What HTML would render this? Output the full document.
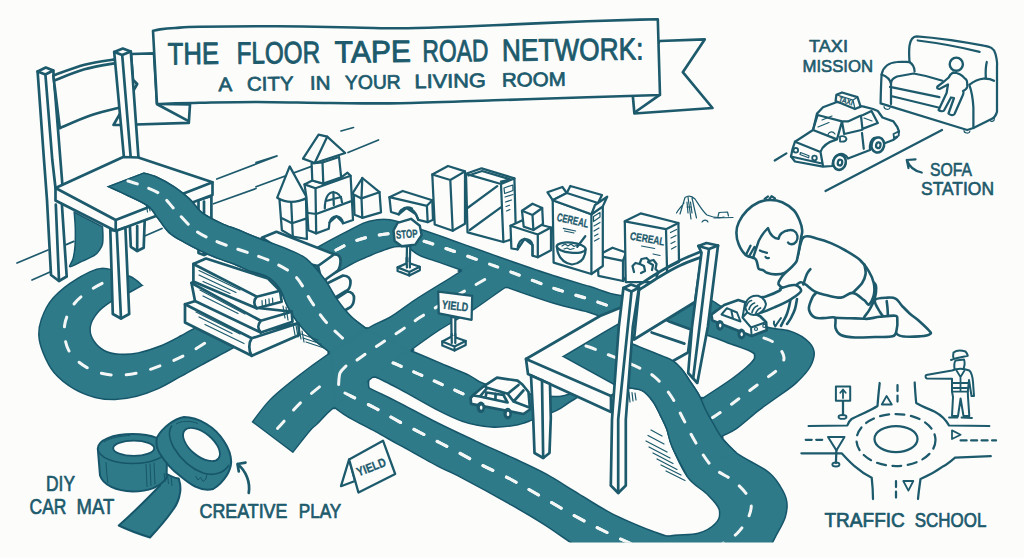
<!DOCTYPE html>
<html lang="en"><head><meta charset="utf-8"><title>The Floor Tape Road Network</title>
<style>
html,body{margin:0;padding:0;background:#fcfcfb;}
body{width:1024px;height:558px;overflow:hidden;}
svg{display:block;}
text{font-family:"Liberation Sans",sans-serif;fill:#1c5a6c;}
.ln{fill:none;stroke:#1c5a6c;stroke-width:2.7;stroke-linecap:round;stroke-linejoin:round;}
.lw{fill:#fcfcfb;stroke:#1c5a6c;stroke-width:2.7;stroke-linecap:round;stroke-linejoin:round;}
.th{fill:none;stroke:#1c5a6c;stroke-width:1.2;stroke-linecap:round;stroke-linejoin:round;}
.sm .lw,.sm .ln{stroke-width:2.25;}
.bl{fill:none;stroke:#1c5a6c;stroke-width:1.7;stroke-linecap:round;}
.rd{fill:#2e7a88;stroke:#17566a;stroke-width:3;stroke-linejoin:round;}
.rf{fill:#2e7a88;stroke:none;}
.ds{fill:none;stroke:#f4f7f6;stroke-width:3;stroke-linecap:round;}
</style></head><body>
<svg width="1024" height="558" viewBox="0 0 1024 558">
<rect width="1024" height="558" fill="#fcfcfb"/>
<defs><clipPath id="cut"><rect x="0" y="0" width="1024" height="542.5"/></clipPath><filter id="er" x="0" y="0" width="1024" height="558" filterUnits="userSpaceOnUse"><feMorphology operator="erode" radius="1"/></filter></defs>
<path class="bl" d="M17 263L48 250M216.8 179L256 164L277 156M341 131L353.5 127.5M32 280L50 272M256 186.7L311.5 166.4M256 162.5L276.4 156M66.2 244.6L73.8 241.4M144.7 236L162 228.5M213.5 203.8L256 188.5M348 152.5L378.5 140"/>
<path class="lw" d="M131 54L154 53.3L157 104L190 104.5L188.8 122.8L120 125L113.5 125L119 115.3L128 100L137.2 84L133 79.8Z"/>
<path class="ln" d="M157.6 104.5L187.7 120.6"/>
<g clip-path="url(#cut)">
<g filter="url(#er)">
<path class="rd" d="M73.8 211.3L102.8 226.3C102.9 227.9 103.2 232.9 103.2 236C103.2 239.1 103.3 242.2 102.8 244.6C102.3 247 101.2 248.7 100 250.5C98.8 252.3 98.1 253.6 95.3 255.4C92.5 257.2 87.3 259.5 83 261.5C78.7 263.5 71.2 267.9 69.5 267.2C67.8 266.4 72.1 260.8 73 257C73.9 253.2 74.5 249.4 74.8 244.6C75.1 239.8 75.2 233.6 75 228C74.8 222.4 74 214.1 73.8 211.3Z"/>
<path class="rf" d="M73.8 211.3L102.8 226.3C102.9 227.9 103.2 232.9 103.2 236C103.2 239.1 103.3 242.2 102.8 244.6C102.3 247 101.2 248.7 100 250.5C98.8 252.3 98.1 253.6 95.3 255.4C92.5 257.2 87.3 259.5 83 261.5C78.7 263.5 71.2 267.9 69.5 267.2C67.8 266.4 72.1 260.8 73 257C73.9 253.2 74.5 249.4 74.8 244.6C75.1 239.8 75.2 233.6 75 228C74.8 222.4 74 214.1 73.8 211.3Z"/>
<path class="rd" d="M143.3 285.5C141.2 283.9 137.2 278.9 130.4 276C123.6 273.1 111.2 267.6 102.2 268C93.2 268.4 84.6 273.6 76.4 278.5C68.2 283.4 58.8 290.7 52.9 297.3C47 303.9 43.5 311.9 41.1 318.4C38.7 324.9 38.3 330.5 38.6 336.4C38.9 342.3 40.4 347.5 42.9 353.6C45.4 359.7 48.6 367.1 53.6 373C58.6 378.9 66.2 384.9 73 389C79.8 393.1 87.2 395.9 94.4 397.7C101.6 399.5 108.8 400 116 399.8C123.2 399.6 130.2 398.4 137.4 396.6C144.6 394.8 151.7 392.2 158.9 389C166.1 385.8 173.2 381.2 180.4 377.3C187.6 373.4 193.3 370.1 201.9 365.4C210.5 360.7 225.3 353 232 349.3C238.7 345.6 240.3 344.1 242 343L242 303C237.5 305.3 223.8 312.4 215 317C206.2 321.6 194.8 327.4 189 330.5C183.2 333.6 185.4 332.8 180.4 335.4C175.4 338 166.1 343.1 158.9 346C151.7 348.9 143.8 351.3 137.4 352.6C131 353.9 125.6 354.4 120.2 354C114.8 353.6 109.5 352.6 105.2 350.4C100.9 348.2 96.9 344.4 94.4 340.7C92 337 90 332.5 90.5 328C91 323.5 94 318 97.5 313.7C101 309.4 106.1 305.5 111.6 302C117.1 298.5 127.3 294.2 130.4 292.6Z"/>
<path class="rf" d="M143.3 285.5C141.2 283.9 137.2 278.9 130.4 276C123.6 273.1 111.2 267.6 102.2 268C93.2 268.4 84.6 273.6 76.4 278.5C68.2 283.4 58.8 290.7 52.9 297.3C47 303.9 43.5 311.9 41.1 318.4C38.7 324.9 38.3 330.5 38.6 336.4C38.9 342.3 40.4 347.5 42.9 353.6C45.4 359.7 48.6 367.1 53.6 373C58.6 378.9 66.2 384.9 73 389C79.8 393.1 87.2 395.9 94.4 397.7C101.6 399.5 108.8 400 116 399.8C123.2 399.6 130.2 398.4 137.4 396.6C144.6 394.8 151.7 392.2 158.9 389C166.1 385.8 173.2 381.2 180.4 377.3C187.6 373.4 193.3 370.1 201.9 365.4C210.5 360.7 225.3 353 232 349.3C238.7 345.6 240.3 344.1 242 343L242 303C237.5 305.3 223.8 312.4 215 317C206.2 321.6 194.8 327.4 189 330.5C183.2 333.6 185.4 332.8 180.4 335.4C175.4 338 166.1 343.1 158.9 346C151.7 348.9 143.8 351.3 137.4 352.6C131 353.9 125.6 354.4 120.2 354C114.8 353.6 109.5 352.6 105.2 350.4C100.9 348.2 96.9 344.4 94.4 340.7C92 337 90 332.5 90.5 328C91 323.5 94 318 97.5 313.7C101 309.4 106.1 305.5 111.6 302C117.1 298.5 127.3 294.2 130.4 292.6Z"/>
</g>
<path class="ds" d="M123 274C120.5 275.1 113.4 277.7 108 280.4C102.6 283.1 96.2 286.1 90.5 290C84.8 293.9 78.3 298.1 74 304C69.7 309.9 65.5 317.8 64.6 325.5C63.7 333.2 65 343.4 68.7 350.4C72.4 357.4 79.8 363.5 87 367.6C94.2 371.7 103.2 374.1 111.6 375C120 375.9 129.2 374.6 137.4 373C145.6 371.4 153.3 368.3 161 365.4C168.7 362.5 176.1 359.6 183.6 355.8C191.1 352 200.8 345.6 206 342.5C211.2 339.4 213.5 337.9 215 337" stroke-dasharray="10 15" stroke-dashoffset="2"/>
</g>
<path class="lw" d="M198.5 200L198.5 253L204 255L211.4 252L211.4 196Z"/>
<path class="ln" d="M204 201.6L204 255"/>
<path class="lw" d="M129.7 222L130.8 246.8L137.2 251L143.7 247.8L144.7 220Z"/>
<path class="ln" d="M137.2 226L137.2 251"/>
<path class="lw" d="M37.6 71.5L45.8 67.5L53.3 70.5L62.5 186L62 206L66.7 276.5L59 281L51 275L47 200L44 160Z"/>
<path class="ln" d="M37.6 71.5L45.4 74.5L53.3 70.5M45.4 74.5L52.3 160L55.5 188M55.8 204.7L59 281"/>
<path class="lw" d="M53.3 75.5C58.5 73.7 73.8 67.5 84.5 64.7C95.2 61.9 112.2 59.9 117.8 58.9 L123.2 106.7 C117.8 108.1 101.6 111.7 91 115.3C80.4 118.9 65 126 59.8 128.2 Z"/>
<path class="ln" d="M54.4 80.5C59.4 78.6 73.7 72.3 84.5 69.3C95.3 66.3 113.2 63.7 119 62.6"/>
<path class="lw" d="M114.2 52L122.8 48.6L130.8 51.5L138.5 158L131 161L124 158Z"/>
<path class="ln" d="M114.2 52L122.2 55L130.8 51.5M122.2 55L131 161"/>
<path class="lw" d="M55.5 188L123.2 157L138.3 157.5L212.5 182.3L212.5 195L115.7 231L55.5 200.5Z"/>
<path class="ln" d="M55.5 188L115.7 220L212.5 182.3M115.7 220L115.7 231"/>
<path class="lw" d="M110.3 229.6L112.8 314L121 318.5L129.2 314L125.4 227.5L115.7 231Z"/>
<path class="ln" d="M116.8 231.7L121 318.5"/>
<path class="th" d="M146 203L147.5 212M148.5 203.5L150 211M151 202L152.5 210"/>
<g clip-path="url(#cut)">
<g filter="url(#er)">
<path class="rd" d="M300 258C303.1 256 310.4 250.7 318.5 246C326.6 241.3 340.2 234.2 348.5 230C356.8 225.8 361.4 222.8 368.5 221C375.6 219.2 382.2 218.2 391 219.5C399.8 220.8 411.8 226 421 229C430.2 232 436 234 446 237.5C456 241 470 246.1 481 250C492 253.9 500 256.8 512 261C524 265.2 540 270.8 553 275C566 279.2 578.8 282.7 590 286C601.2 289.3 607.5 293 620 295C632.5 297 650.3 297.2 665 298C679.7 298.8 698.6 298.2 708 299.5C717.4 300.8 715.3 303.1 721.5 305.8C727.7 308.6 737.2 312.5 745 316C752.8 319.5 761.1 324.6 768.5 327C775.9 329.4 783.4 328.6 789.6 330.5C795.9 332.4 801.9 335.4 806 338.7C810.1 342 813.5 345.8 814.3 350.5C815.1 355.2 813.7 361.4 810.8 366.9C807.9 372.4 802.2 378.2 796.7 383.3C791.2 388.4 784.2 392.8 777.9 397.4C771.6 402 765.8 405.7 759 411C752.2 416.3 743 424.8 737 429C731 433.2 727 434 722.8 436.5C718.6 439 713.8 442.8 712 444L688 407C690.5 405.4 695.5 402.1 702.7 397.4C709.9 392.7 723.1 384.3 731 378.6C738.9 372.9 746.1 366.8 750 363C753.9 359.2 754.4 357.9 754.4 356C754.4 354.1 753.6 353.5 749.7 351.6C745.8 349.7 739.2 347.5 731 344.6C722.8 341.7 712.2 336.4 700.4 334C688.6 331.6 673.7 331.6 660 330C646.3 328.4 627.3 326.4 618 324.6C608.7 322.8 608.7 320.9 604 319C599.3 317.1 598.5 315.8 590 313.2C581.5 310.6 566.9 307.8 553 303.5C539.1 299.2 517.8 291.8 506.5 287.7C495.2 283.6 492.6 281.9 485 279C477.4 276.1 468.6 273.2 460.9 270.5C453.2 267.8 445.6 265.2 438.6 262.7C431.6 260.2 424 258.2 418.7 255.7C413.4 253.2 410.1 249.1 407 247.6C403.9 246.1 402.6 246.7 400 246.8C397.4 246.9 395 247.1 391.7 248C388.4 248.9 383.7 250.8 380 252.2C376.3 253.6 373.6 254.7 369.4 256.5C365.2 258.3 359.8 260.6 355 263C350.2 265.4 346.7 267.7 340.5 271C334.3 274.3 321.8 281 318 283Z"/>
<path class="rd" d="M251.7 422C254.8 418.1 262.7 406.4 270.5 398.6C278.3 390.8 288.9 382.6 298.7 375C308.5 367.4 317.8 360.6 329.2 352.8C340.6 345 356.6 334.3 366.8 328.2C377 322.1 382.5 321.1 390.3 316.4C398.1 311.7 404.5 306.1 413.8 300C423.1 293.9 438.2 284.8 446 280C453.8 275.2 454 274.7 460.5 271C467 267.3 480.9 260.2 485 258L525 278C521.8 279.6 514.4 282.5 506 287.7C497.6 292.9 485.9 302.3 474.8 309.4C463.7 316.5 450.2 323.6 439.6 330.5C429 337.4 423 342.2 411.4 350.5C399.8 358.8 382.9 370.4 370 380C357.1 389.6 342.8 400.6 334 408C325.2 415.4 321.4 420.7 317.5 424.5C313.6 428.3 314.6 426.2 310.5 431C306.4 435.8 295.9 449.3 293 453Z"/>
<path class="rd" d="M345 330C350.8 331.7 368.9 336.6 380 340C391.1 343.4 400.4 346.3 411.4 350.5C422.4 354.7 436.3 360.9 446 365C455.7 369.1 462.9 371.7 469.4 374.8C475.9 377.9 476.6 380.6 485 383.5C493.4 386.4 507.5 389.9 520 392C532.5 394.1 549.2 397.2 560 396C570.8 394.8 576.3 389 585 385C593.7 381 607.5 374.2 612 372L612 380C605.8 383.3 584.2 394.4 575 399.6C565.8 404.8 564.2 407.5 557 411C549.8 414.5 538.8 418.3 532 420.7C525.2 423.1 521.9 424.4 516 425.5C510.1 426.6 503.2 427.5 496.7 427.5C490.2 427.5 482.9 426.5 477 425.5C471.1 424.5 468 424 461.5 421.6C455 419.2 448.4 416.4 438 411C427.6 405.6 409.6 395 399 389.4C388.4 383.8 379.4 379.2 374.5 377.3C369.6 375.4 370.8 377 369.8 377.8C368.9 378.6 369 381.6 368.8 382.3Z"/>
<path class="rd" d="M143.7 172.6C146 173.3 152.4 174.6 157.6 176.9C162.8 179.2 169.4 183 174.8 186.6C180.2 190.2 185.2 194.1 189.9 198.4C194.6 202.7 197.5 208.3 202.8 212.4C208.2 216.5 215.8 220.1 222 223C228.2 225.9 234.3 227.7 240 230C245.7 232.3 248.1 233.6 256 236.7C263.9 239.8 278.8 244.8 287.2 248.4C295.6 252 300.5 253.3 306.7 258.2C312.9 263.1 319.2 271.1 324.3 277.7C329.4 284.3 332.6 291.7 337 298C341.4 304.3 346 310.5 351 315.5C356 320.5 362.8 324.8 366.8 328.2C370.8 331.6 373.6 334.7 375 336L339 361C337.4 359.6 333.9 356.7 329.2 352.8C324.4 348.9 315.9 342.6 310.5 337.6C305.1 332.6 300.9 327.8 297 322.7C293.1 317.6 290.1 312.5 287.2 307C284.3 301.5 282.6 294.4 279.4 289.5C276.1 284.6 272.9 280.8 267.7 277.7C262.5 274.6 253.4 273.1 248 271C242.6 268.9 241.5 267.6 235 265C228.5 262.4 217.8 259.1 209.2 255.4C200.6 251.7 190.2 246.3 183.4 242.5C176.6 238.7 172.7 236.8 168.4 232.8C164.1 228.9 161.2 223.3 157.6 218.8C154 214.3 153 210.2 146.9 205.9C140.8 201.6 127.6 196.2 121 193C114.4 189.8 109.4 187.7 107.1 186.6Z"/>
<path class="rd" d="M368.8 382.3C368.9 383 368.7 385.4 369.3 386.5C369.9 387.6 367.6 386.4 372.5 389C377.4 391.6 388.1 396.4 399 402C409.9 407.6 425 415.9 438 422.4C451 428.9 464 434.9 477 441C490 447.1 504.2 453.2 516 458.7C527.8 464.2 537.8 468.7 547.5 474C557.2 479.3 563.8 484 574.5 490.5C585.2 497 599.1 506.3 612 513C624.9 519.7 640.7 526 652 530.5C663.3 535 672 536.8 680 540C688 543.2 696.7 548.3 700 550L585 552C582.4 550.4 576.2 546.9 569.5 542.5C562.8 538.1 554.2 531.7 544.5 525.5C534.8 519.3 525.6 513.8 511 505.5C496.4 497.2 469.2 482.4 457 476C444.8 469.6 447.5 472 438 467C428.5 462 410.5 451.8 400 446C389.5 440.2 383.6 436.7 375 432C366.4 427.3 355.3 422 348.5 418C341.7 414 336.4 409.7 334 408L330 397L352 372Z"/>
<path class="rd" d="M616 335.5C619.1 336.9 628.1 341.4 634.6 344.2C641.1 347 648.6 349.9 655 352.5C661.4 355.1 668.2 357.3 672.7 360C677.2 362.7 679.1 365.2 682 368.5C684.9 371.8 687.1 375.7 690 380C692.9 384.3 696.8 389.7 699.4 394.4C702 399.1 703.3 403.7 705.6 408.4C707.9 413.1 710.5 417.6 713.4 422.5C716.3 427.4 718.8 432.9 722.8 438C726.8 443.1 730 447.5 737.5 453C745 458.5 760.8 465.6 768 471C775.2 476.4 777.3 480.6 780.5 485.5C783.7 490.4 786.2 495.1 787 500.5C787.8 505.9 787.4 511.8 785.5 518C783.6 524.2 778.4 532.3 775.5 538C772.6 543.7 769.2 549.7 768 552L640 545C644.6 543.5 657.9 538 667.5 536C677.1 534 689.6 535.2 697.5 533C705.4 530.8 711.4 526.8 715 523C718.6 519.2 720.2 515.1 719 510.5C717.8 505.9 712.8 500.9 707.5 495.5C702.2 490.1 693.4 485.9 687.5 478C681.6 470.1 675.5 456 672 448C668.5 440 668.5 435.3 666.5 430C664.5 424.7 662.3 420.7 660 416C657.7 411.3 655.6 406.2 652.5 402C649.4 397.8 645.7 393.3 641.5 391C637.3 388.7 631.8 388.8 627.5 388C623.2 387.2 617.9 386.3 616 386Z"/>
<path class="rf" d="M300 258C303.1 256 310.4 250.7 318.5 246C326.6 241.3 340.2 234.2 348.5 230C356.8 225.8 361.4 222.8 368.5 221C375.6 219.2 382.2 218.2 391 219.5C399.8 220.8 411.8 226 421 229C430.2 232 436 234 446 237.5C456 241 470 246.1 481 250C492 253.9 500 256.8 512 261C524 265.2 540 270.8 553 275C566 279.2 578.8 282.7 590 286C601.2 289.3 607.5 293 620 295C632.5 297 650.3 297.2 665 298C679.7 298.8 698.6 298.2 708 299.5C717.4 300.8 715.3 303.1 721.5 305.8C727.7 308.6 737.2 312.5 745 316C752.8 319.5 761.1 324.6 768.5 327C775.9 329.4 783.4 328.6 789.6 330.5C795.9 332.4 801.9 335.4 806 338.7C810.1 342 813.5 345.8 814.3 350.5C815.1 355.2 813.7 361.4 810.8 366.9C807.9 372.4 802.2 378.2 796.7 383.3C791.2 388.4 784.2 392.8 777.9 397.4C771.6 402 765.8 405.7 759 411C752.2 416.3 743 424.8 737 429C731 433.2 727 434 722.8 436.5C718.6 439 713.8 442.8 712 444L688 407C690.5 405.4 695.5 402.1 702.7 397.4C709.9 392.7 723.1 384.3 731 378.6C738.9 372.9 746.1 366.8 750 363C753.9 359.2 754.4 357.9 754.4 356C754.4 354.1 753.6 353.5 749.7 351.6C745.8 349.7 739.2 347.5 731 344.6C722.8 341.7 712.2 336.4 700.4 334C688.6 331.6 673.7 331.6 660 330C646.3 328.4 627.3 326.4 618 324.6C608.7 322.8 608.7 320.9 604 319C599.3 317.1 598.5 315.8 590 313.2C581.5 310.6 566.9 307.8 553 303.5C539.1 299.2 517.8 291.8 506.5 287.7C495.2 283.6 492.6 281.9 485 279C477.4 276.1 468.6 273.2 460.9 270.5C453.2 267.8 445.6 265.2 438.6 262.7C431.6 260.2 424 258.2 418.7 255.7C413.4 253.2 410.1 249.1 407 247.6C403.9 246.1 402.6 246.7 400 246.8C397.4 246.9 395 247.1 391.7 248C388.4 248.9 383.7 250.8 380 252.2C376.3 253.6 373.6 254.7 369.4 256.5C365.2 258.3 359.8 260.6 355 263C350.2 265.4 346.7 267.7 340.5 271C334.3 274.3 321.8 281 318 283Z"/>
<path class="rf" d="M251.7 422C254.8 418.1 262.7 406.4 270.5 398.6C278.3 390.8 288.9 382.6 298.7 375C308.5 367.4 317.8 360.6 329.2 352.8C340.6 345 356.6 334.3 366.8 328.2C377 322.1 382.5 321.1 390.3 316.4C398.1 311.7 404.5 306.1 413.8 300C423.1 293.9 438.2 284.8 446 280C453.8 275.2 454 274.7 460.5 271C467 267.3 480.9 260.2 485 258L525 278C521.8 279.6 514.4 282.5 506 287.7C497.6 292.9 485.9 302.3 474.8 309.4C463.7 316.5 450.2 323.6 439.6 330.5C429 337.4 423 342.2 411.4 350.5C399.8 358.8 382.9 370.4 370 380C357.1 389.6 342.8 400.6 334 408C325.2 415.4 321.4 420.7 317.5 424.5C313.6 428.3 314.6 426.2 310.5 431C306.4 435.8 295.9 449.3 293 453Z"/>
<path class="rf" d="M345 330C350.8 331.7 368.9 336.6 380 340C391.1 343.4 400.4 346.3 411.4 350.5C422.4 354.7 436.3 360.9 446 365C455.7 369.1 462.9 371.7 469.4 374.8C475.9 377.9 476.6 380.6 485 383.5C493.4 386.4 507.5 389.9 520 392C532.5 394.1 549.2 397.2 560 396C570.8 394.8 576.3 389 585 385C593.7 381 607.5 374.2 612 372L612 380C605.8 383.3 584.2 394.4 575 399.6C565.8 404.8 564.2 407.5 557 411C549.8 414.5 538.8 418.3 532 420.7C525.2 423.1 521.9 424.4 516 425.5C510.1 426.6 503.2 427.5 496.7 427.5C490.2 427.5 482.9 426.5 477 425.5C471.1 424.5 468 424 461.5 421.6C455 419.2 448.4 416.4 438 411C427.6 405.6 409.6 395 399 389.4C388.4 383.8 379.4 379.2 374.5 377.3C369.6 375.4 370.8 377 369.8 377.8C368.9 378.6 369 381.6 368.8 382.3Z"/>
<path class="rf" d="M143.7 172.6C146 173.3 152.4 174.6 157.6 176.9C162.8 179.2 169.4 183 174.8 186.6C180.2 190.2 185.2 194.1 189.9 198.4C194.6 202.7 197.5 208.3 202.8 212.4C208.2 216.5 215.8 220.1 222 223C228.2 225.9 234.3 227.7 240 230C245.7 232.3 248.1 233.6 256 236.7C263.9 239.8 278.8 244.8 287.2 248.4C295.6 252 300.5 253.3 306.7 258.2C312.9 263.1 319.2 271.1 324.3 277.7C329.4 284.3 332.6 291.7 337 298C341.4 304.3 346 310.5 351 315.5C356 320.5 362.8 324.8 366.8 328.2C370.8 331.6 373.6 334.7 375 336L339 361C337.4 359.6 333.9 356.7 329.2 352.8C324.4 348.9 315.9 342.6 310.5 337.6C305.1 332.6 300.9 327.8 297 322.7C293.1 317.6 290.1 312.5 287.2 307C284.3 301.5 282.6 294.4 279.4 289.5C276.1 284.6 272.9 280.8 267.7 277.7C262.5 274.6 253.4 273.1 248 271C242.6 268.9 241.5 267.6 235 265C228.5 262.4 217.8 259.1 209.2 255.4C200.6 251.7 190.2 246.3 183.4 242.5C176.6 238.7 172.7 236.8 168.4 232.8C164.1 228.9 161.2 223.3 157.6 218.8C154 214.3 153 210.2 146.9 205.9C140.8 201.6 127.6 196.2 121 193C114.4 189.8 109.4 187.7 107.1 186.6Z"/>
<path class="rf" d="M368.8 382.3C368.9 383 368.7 385.4 369.3 386.5C369.9 387.6 367.6 386.4 372.5 389C377.4 391.6 388.1 396.4 399 402C409.9 407.6 425 415.9 438 422.4C451 428.9 464 434.9 477 441C490 447.1 504.2 453.2 516 458.7C527.8 464.2 537.8 468.7 547.5 474C557.2 479.3 563.8 484 574.5 490.5C585.2 497 599.1 506.3 612 513C624.9 519.7 640.7 526 652 530.5C663.3 535 672 536.8 680 540C688 543.2 696.7 548.3 700 550L585 552C582.4 550.4 576.2 546.9 569.5 542.5C562.8 538.1 554.2 531.7 544.5 525.5C534.8 519.3 525.6 513.8 511 505.5C496.4 497.2 469.2 482.4 457 476C444.8 469.6 447.5 472 438 467C428.5 462 410.5 451.8 400 446C389.5 440.2 383.6 436.7 375 432C366.4 427.3 355.3 422 348.5 418C341.7 414 336.4 409.7 334 408L330 397L352 372Z"/>
<path class="rf" d="M616 335.5C619.1 336.9 628.1 341.4 634.6 344.2C641.1 347 648.6 349.9 655 352.5C661.4 355.1 668.2 357.3 672.7 360C677.2 362.7 679.1 365.2 682 368.5C684.9 371.8 687.1 375.7 690 380C692.9 384.3 696.8 389.7 699.4 394.4C702 399.1 703.3 403.7 705.6 408.4C707.9 413.1 710.5 417.6 713.4 422.5C716.3 427.4 718.8 432.9 722.8 438C726.8 443.1 730 447.5 737.5 453C745 458.5 760.8 465.6 768 471C775.2 476.4 777.3 480.6 780.5 485.5C783.7 490.4 786.2 495.1 787 500.5C787.8 505.9 787.4 511.8 785.5 518C783.6 524.2 778.4 532.3 775.5 538C772.6 543.7 769.2 549.7 768 552L640 545C644.6 543.5 657.9 538 667.5 536C677.1 534 689.6 535.2 697.5 533C705.4 530.8 711.4 526.8 715 523C718.6 519.2 720.2 515.1 719 510.5C717.8 505.9 712.8 500.9 707.5 495.5C702.2 490.1 693.4 485.9 687.5 478C681.6 470.1 675.5 456 672 448C668.5 440 668.5 435.3 666.5 430C664.5 424.7 662.3 420.7 660 416C657.7 411.3 655.6 406.2 652.5 402C649.4 397.8 645.7 393.3 641.5 391C637.3 388.7 631.8 388.8 627.5 388C623.2 387.2 617.9 386.3 616 386Z"/>
<path class="rf" d="M331 353.5L366.5 330L409 350.5L368 380.5L335 406Z"/>
</g>
<path class="ds" d="M128 181C130 181.7 134.7 182.8 140 185C145.3 187.2 154 189.7 160 194C166 198.3 170 204.8 176 211C182 217.2 188.8 225.8 196 231C203.2 236.2 210.4 238.9 219 242.5C227.6 246.1 238.4 249.2 247.5 252.5C256.6 255.8 265.4 258.4 273.5 262.5C281.6 266.6 289.8 270.6 296 277C302.2 283.4 306 293.5 311 301C316 308.5 320.6 315.7 326 322C331.4 328.3 339.9 335.5 343.3 338.8C346.7 342.1 346 341.5 346.5 342" stroke-dasharray="10 12" stroke-dashoffset="0"/>
<path class="ds" d="M345 393C346.1 393.6 346.5 393.8 351.5 396.3C356.5 398.8 367.1 403.8 375 408C382.9 412.2 390.3 416.9 399 421.6C407.7 426.3 418.3 431.6 427.4 436.3C436.5 441 444.9 445.3 453.8 450C462.7 454.7 471.3 459.6 481 464.6C490.7 469.6 501.8 474.6 512 480C522.2 485.4 531.5 491 542 497C552.5 503 564.3 510.2 575 516C585.7 521.8 595.2 526.7 606 532C616.8 537.3 634.3 545.3 640 548" stroke-dasharray="11 15" stroke-dashoffset="0"/>
<path class="ds" d="M346 366C345 367.2 341.2 369.9 340 373C338.8 376.1 338.8 382.6 338.6 384.5"/>
<path class="ds" d="M277.5 428.5C278.5 427.4 279.7 426.2 283.4 422C287.1 417.8 293.6 409.4 299.9 403.3C306.2 397.2 316.5 389.4 321 385.7C325.5 382 326 381.8 327 381" stroke-dasharray="10 14.5" stroke-dashoffset="0"/>
<path class="ds" d="M357 360C357.8 359.4 358 359.2 362 356.4C366 353.6 374.5 347.7 381 343.4C387.5 339.1 394.4 334.8 400.9 330.5C407.3 326.2 412.3 322.4 419.7 317.6C427.1 312.9 436.6 306.9 445 302C453.4 297.1 462.7 292.2 470 288C477.3 283.8 485.8 278.8 489 277" stroke-dasharray="10 13.5" stroke-dashoffset="0"/>
<path class="ds" d="M393 362.8C393.7 363.1 393.1 362.7 397.3 364.6C401.6 366.5 411.4 370.9 418.5 374C425.6 377.1 432.6 380.3 439.6 383.4C446.7 386.5 455.7 390.5 460.8 392.8C465.9 395.1 468.5 396.3 470 397" stroke-dasharray="9 13.5" stroke-dashoffset="0"/>
<path class="ds" d="M336 250C339.2 248.5 348.3 243.4 355 241C361.7 238.6 369.2 236.7 376 235.5C382.8 234.3 388.7 233.2 396 234C403.3 234.8 411.7 237.6 420 240C428.3 242.4 435.8 245 446 248.5C456.2 252 470 257 481 261C492 265 500 268 512 272.5C524 277 540 283.5 553 288C566 292.5 580.2 296.3 590 299.5C599.8 302.7 608.3 305.8 612 307" stroke-dasharray="9 14" stroke-dashoffset="0"/>
<path class="ds" d="M764 338C766 339 772.7 340.8 776 344C779.3 347.2 783.7 353.3 784 357.5C784.3 361.7 780.8 365.7 778 369C775.2 372.3 773 373.2 767.3 377.5C761.6 381.8 751.5 389.2 743.8 395C736.1 400.8 726.3 408.2 721 412C715.7 415.8 713.5 417 712 418" stroke-dasharray="9 14" stroke-dashoffset="0"/>
</g>
<path class="lw" d="M261.8 237.7L276.4 231.8L334 254.3L338 258L318 266L300 262Z"/>
<path class="lw" d="M318 266L334 254.5Q341 254 340.5 262Q340 270 336 272L322 282Z"/>
<path class="lw" d="M326 284L343 275.5Q351 276 350.5 283Q350 289.5 346 291L333 299Z"/>
<path class="lw" d="M334 300L347 291.5Q354.5 292 354 299Q353.5 306 349 308L342 312Z"/>
<g clip-path="url(#cut)">
<g filter="url(#er)">
<path class="rd" d="M143.7 172.6C146 173.3 152.4 174.6 157.6 176.9C162.8 179.2 169.4 183 174.8 186.6C180.2 190.2 185.2 194.1 189.9 198.4C194.6 202.7 197.5 208.3 202.8 212.4C208.2 216.5 215.8 220.1 222 223C228.2 225.9 234.3 227.7 240 230C245.7 232.3 248.1 233.6 256 236.7C263.9 239.8 278.8 244.8 287.2 248.4C295.6 252 300.5 253.3 306.7 258.2C312.9 263.1 319.2 271.1 324.3 277.7C329.4 284.3 332.6 291.7 337 298C341.4 304.3 346 310.5 351 315.5C356 320.5 362.8 324.8 366.8 328.2C370.8 331.6 373.6 334.7 375 336L339 361C337.4 359.6 333.9 356.7 329.2 352.8C324.4 348.9 315.9 342.6 310.5 337.6C305.1 332.6 300.9 327.8 297 322.7C293.1 317.6 290.1 312.5 287.2 307C284.3 301.5 282.6 294.4 279.4 289.5C276.1 284.6 272.9 280.8 267.7 277.7C262.5 274.6 253.4 273.1 248 271C242.6 268.9 241.5 267.6 235 265C228.5 262.4 217.8 259.1 209.2 255.4C200.6 251.7 190.2 246.3 183.4 242.5C176.6 238.7 172.7 236.8 168.4 232.8C164.1 228.9 161.2 223.3 157.6 218.8C154 214.3 153 210.2 146.9 205.9C140.8 201.6 127.6 196.2 121 193C114.4 189.8 109.4 187.7 107.1 186.6Z"/>
<path class="rf" d="M143.7 172.6C146 173.3 152.4 174.6 157.6 176.9C162.8 179.2 169.4 183 174.8 186.6C180.2 190.2 185.2 194.1 189.9 198.4C194.6 202.7 197.5 208.3 202.8 212.4C208.2 216.5 215.8 220.1 222 223C228.2 225.9 234.3 227.7 240 230C245.7 232.3 248.1 233.6 256 236.7C263.9 239.8 278.8 244.8 287.2 248.4C295.6 252 300.5 253.3 306.7 258.2C312.9 263.1 319.2 271.1 324.3 277.7C329.4 284.3 332.6 291.7 337 298C341.4 304.3 346 310.5 351 315.5C356 320.5 362.8 324.8 366.8 328.2C370.8 331.6 373.6 334.7 375 336L339 361C337.4 359.6 333.9 356.7 329.2 352.8C324.4 348.9 315.9 342.6 310.5 337.6C305.1 332.6 300.9 327.8 297 322.7C293.1 317.6 290.1 312.5 287.2 307C284.3 301.5 282.6 294.4 279.4 289.5C276.1 284.6 272.9 280.8 267.7 277.7C262.5 274.6 253.4 273.1 248 271C242.6 268.9 241.5 267.6 235 265C228.5 262.4 217.8 259.1 209.2 255.4C200.6 251.7 190.2 246.3 183.4 242.5C176.6 238.7 172.7 236.8 168.4 232.8C164.1 228.9 161.2 223.3 157.6 218.8C154 214.3 153 210.2 146.9 205.9C140.8 201.6 127.6 196.2 121 193C114.4 189.8 109.4 187.7 107.1 186.6Z"/>
<path class="rf" d="M251.7 422C254.8 418.1 262.7 406.4 270.5 398.6C278.3 390.8 288.9 382.6 298.7 375C308.5 367.4 317.8 360.6 329.2 352.8C340.6 345 356.6 334.3 366.8 328.2C377 322.1 382.5 321.1 390.3 316.4C398.1 311.7 404.5 306.1 413.8 300C423.1 293.9 438.2 284.8 446 280C453.8 275.2 454 274.7 460.5 271C467 267.3 480.9 260.2 485 258L525 278C521.8 279.6 514.4 282.5 506 287.7C497.6 292.9 485.9 302.3 474.8 309.4C463.7 316.5 450.2 323.6 439.6 330.5C429 337.4 423 342.2 411.4 350.5C399.8 358.8 382.9 370.4 370 380C357.1 389.6 342.8 400.6 334 408C325.2 415.4 321.4 420.7 317.5 424.5C313.6 428.3 314.6 426.2 310.5 431C306.4 435.8 295.9 449.3 293 453Z"/>
<path class="rf" d="M331 353.5L366.5 330L409 350.5L368 380.5L335 406Z"/>
</g>
<path class="ds" d="M128 181C130 181.7 134.7 182.8 140 185C145.3 187.2 154 189.7 160 194C166 198.3 170 204.8 176 211C182 217.2 188.8 225.8 196 231C203.2 236.2 210.4 238.9 219 242.5C227.6 246.1 238.4 249.2 247.5 252.5C256.6 255.8 265.4 258.4 273.5 262.5C281.6 266.6 289.8 270.6 296 277C302.2 283.4 306 293.5 311 301C316 308.5 320.6 315.7 326 322C331.4 328.3 339.9 335.5 343.3 338.8C346.7 342.1 346 341.5 346.5 342" stroke-dasharray="10 12" stroke-dashoffset="0"/>
<path class="ds" d="M277.5 428.5C278.5 427.4 279.7 426.2 283.4 422C287.1 417.8 293.6 409.4 299.9 403.3C306.2 397.2 316.5 389.4 321 385.7C325.5 382 326 381.8 327 381" stroke-dasharray="10 14.5" stroke-dashoffset="0"/>
<path class="ds" d="M357 360C357.8 359.4 358 359.2 362 356.4C366 353.6 374.5 347.7 381 343.4C387.5 339.1 394.4 334.8 400.9 330.5C407.3 326.2 412.3 322.4 419.7 317.6C427.1 312.9 436.6 306.9 445 302C453.4 297.1 462.7 292.2 470 288C477.3 283.8 485.8 278.8 489 277" stroke-dasharray="10 13.5" stroke-dashoffset="0"/>
<path class="ds" d="M346 366C345 367.2 341.2 369.9 340 373C338.8 376.1 338.8 382.6 338.6 384.5"/>
<path class="ds" d="M345 393C346.1 393.6 346.5 393.8 351.5 396.3C356.5 398.8 367.1 403.8 375 408C382.9 412.2 390.3 416.9 399 421.6C407.7 426.3 418.3 431.6 427.4 436.3C436.5 441 444.9 445.3 453.8 450C462.7 454.7 471.3 459.6 481 464.6C490.7 469.6 501.8 474.6 512 480C522.2 485.4 531.5 491 542 497C552.5 503 564.3 510.2 575 516C585.7 521.8 595.2 526.7 606 532C616.8 537.3 634.3 545.3 640 548" stroke-dasharray="11 15" stroke-dashoffset="0"/>
<path class="ds" d="M393 362.8C393.7 363.1 393.1 362.7 397.3 364.6C401.6 366.5 411.4 370.9 418.5 374C425.6 377.1 432.6 380.3 439.6 383.4C446.7 386.5 455.7 390.5 460.8 392.8C465.9 395.1 468.5 396.3 470 397" stroke-dasharray="9 13.5" stroke-dashoffset="0"/>
<path class="ds" d="M336 250C339.2 248.5 348.3 243.4 355 241C361.7 238.6 369.2 236.7 376 235.5C382.8 234.3 388.7 233.2 396 234C403.3 234.8 411.7 237.6 420 240C428.3 242.4 435.8 245 446 248.5C456.2 252 470 257 481 261C492 265 500 268 512 272.5C524 277 540 283.5 553 288C566 292.5 580.2 296.3 590 299.5C599.8 302.7 608.3 305.8 612 307" stroke-dasharray="9 14" stroke-dashoffset="0"/>
</g>
<path class="lw" d="M185 304.200L197 300.500L262 331L298.300 323.300L299.200 335L251.700 355.800L185 322.500Z"/>
<path class="ln" d="M185 304.200L251.700 338.300L298.300 323.300M251.700 338.300C248.500 343 248.500 351 251.700 355.800"/>
<path class="lw" d="M191.500 283L196 281L258 308L291.700 311.700L292.500 321.700L260.800 332.500L195 301Z"/>
<path class="ln" d="M191.500 283L260.800 320.800L291.700 311.700M260.800 320.800C257.500 324.500 257.500 329 260.800 332.500"/>
<path class="lw" d="M193.400 264L206 258.500L268 278.500L280 290.800L281.700 301.700L256.700 308.300L193.400 281.600Z"/>
<path class="ln" d="M193.400 264L256.700 296.700L280 290.800M256.700 296.700C253.500 300 253.500 305 256.700 308.300"/>
<path class="th" d="M199 270.5L240 290M199 275L236 292.5M203 281.5L230 293.5M200 290L245 314M203 296L238 313.5M196 312L240 334M199 317L232 333.5M205 324.5L244 343.5"/>
<path class="th" d="M262 300.5L262.3 305.8M265.5 299.7L265.8 305M269 298.8L269.3 304M272.5 298L272.8 303"/>
<path class="th" d="M283 306L285 318M286 307L288 320M289 309L291 312M293 324L295 335M296 325L298 337M299 328L301 339M302 331L304 342"/>
<path class="th" d="M301 334L318 340M303 338L321 344M306 342L324 348"/>
<g class="sm">
<path class="lw" d="M279.5 199.8L281.9 230.3L292.8 236.6L306.9 239L306 199Z"/>
<path class="ln" d="M291.2 202.3L292.8 236.6M281 217.8L292 223.3L306 218.6"/>
<path class="lw" d="M289.7 166.4L277.2 197.7Q291 206 306.9 197.7Z"/>
<path class="lw" d="M304.5 184.4L312.3 180.5L323.3 183.6L341.2 177.3L347.5 172.7L350.6 175.8L353 220L342.8 223.5L342.8 222.5L336.6 216.2L329.5 222.5L328.8 228.8L316.2 233.4L308.4 230.3L306.5 198Z"/>
<path class="ln" d="M304.5 184.4L315.5 188.3L350.6 175.8M315.5 188.3L316.2 233.4M308.4 213L316.2 214L350.6 201.4"/>
<path class="ln" d="M324.8 208.4Q325 193 333.4 192Q341 193 342 202.3M326 201L341 197M333.4 192L333.8 205"/>
<path class="ln" d="M329.5 222.5Q331 216.5 336.6 216.25Q342 217 342.8 222.5"/>
<path class="lw" d="M311.6 163.3L312.3 180.5L323.3 183.6L341.2 177.3L339 157L322.5 162.5Z"/>
<path class="ln" d="M322.5 162.5L323.3 183.6"/>
<path class="lw" d="M303 158.6L318.6 134.7L327.2 136.7L345.2 153L314.7 163Z"/>
<path class="ln" d="M327.2 136.7L314.7 163"/>
<path class="lw" d="M353.8 194.4L354.5 214.7L362.3 217.8L381 212.3L379.5 192Z"/>
<path class="lw" d="M362.3 178L352.2 193.8L361.5 198.4L379.5 192.2Z"/>
<path class="ln" d="M362.3 178L361.5 198.4L362.3 217.8"/>
<path class="lw" d="M389.4 197.2L402.7 191L432.3 200.3L433 219.8L427.7 222.2L418.3 219.8L416 214.4L406.6 208L398.8 214.4L391 212Z"/>
<path class="ln" d="M389.4 197.2L426.9 205.8L432.3 200.3M426.9 205.8L427.7 222.2"/>
<path class="ln" d="M398.75 214.4Q400 208.5 406.6 208Q414 209 416 214.4L418.3 219.8M401 210.5Q406 205.5 412 208.5"/>
<path class="lw" d="M432.3 174.5L448 166L465 171.4L465 223.8L452.7 230.8L434.7 224.5Z"/>
<path class="ln" d="M432.3 174.5L450.3 180L465 171.4M450.3 180L452.7 230.8"/>
<path class="lw" d="M466 173.8L481.6 168.3L514.4 178.4L516 238L503.4 242L467.5 232.3Z"/>
<path class="ln" d="M466 173.8L501 184L514.4 178.4M501 184L503.4 242M468.5 175.5L482 171L511 179.5L501 181.5M467.5 208L497.2 186.2M469.8 230L501.9 206.6"/>
<path class="th" d="M504 188L512.8 185L513 190.5L504.6 193.5L504 188M505 197L513 194.5M505.5 202L511.5 200M506 206.5L509.5 205.3M506.5 211L510 209.5"/>
<path class="lw" d="M510.5 225.7L523 220L551 227.5L551 250.3L537.8 257.3L532.5 255.6L532.5 245L524.6 238.9L517.6 249.4L511.4 248.5Z"/>
<path class="ln" d="M510.5 225.7L537.8 234.5L551 227.5M537.8 234.5L537.8 257.3"/>
<path class="ln" d="M517.6 249.4Q518 240 524.6 238.9Q531.5 239.5 532.5 245L532.5 255.6"/>
<path class="lw" d="M522 210.8L532.5 203.7L542.2 208L543 224L533.4 230L523.7 226.6Z"/>
<path class="ln" d="M522 210.8L532.5 215L542.2 208M532.5 215L533.4 230"/>
<path class="lw" d="M597.5 255.6L612.5 247.7L626 252.5L626 277L623 281L598.4 275.8Z"/>
<path class="ln" d="M597.5 255.6L623 260.9L626 252.5M623 260.9L623 281"/>
<path class="lw" d="M552.7 200.2L591.4 214.3L602.8 206.4L602.8 266L591.4 274L553.6 262.6Z"/>
<path class="ln" d="M591.4 214.3L591.4 274"/>
<path class="lw" d="M547.5 192.3L562.4 187L566.8 193L552.7 200.2Z"/>
<path class="lw" d="M566.8 193L570.3 186L602 195L598 203L591.4 214.3L552.7 200.2Z"/>
<path class="lw" d="M591.4 214.3L595 205L607.2 196.7L602.8 206.4Z"/>
<path class="ln" d="M566.8 193L598 203"/>
<text x="556.3" y="220.8" font-size="11.5" font-weight="bold" text-anchor="start" textLength="32" lengthAdjust="spacingAndGlyphs" transform="rotate(12.4 556.3 220.8)" style="stroke:#1c5a6c;stroke-width:0.3">CEREAL</text>
<path class="th" d="M563.3 228.3L575.6 231M564.5 231L574 233"/>
<ellipse class="lw" cx="571.2" cy="247.7" rx="14.5" ry="5" transform="rotate(6 571.2 247.7)"/>
<path class="ln" d="M556.8 246.5Q558 262 572 264.5Q585 263 585.6 249.5M577.3 246.8L585.25 236.25"/>
<path class="th" d="M562 246l3-2 3 2 3-2 3 2.5 3-1.5M564 249l3-1 3 1.5 4-1"/>
<path class="th" d="M593.5 216.5L600 212.5L600 217L593.5 221.5L593.5 216.5M594 226L600 222.5M594 231L599 228M594.5 236L598 234M594.5 241L599 238.5"/>
<path class="lw" d="M624.8 221.3L640.6 213.4L678.4 223L679 262L667 268L667 282L625.7 282Z"/>
<path class="ln" d="M624.8 221.3L666 229.2L678.4 223M666 229.2L667 268"/>
<text x="629.5" y="239.5" font-size="11" font-weight="bold" text-anchor="start" textLength="35" lengthAdjust="spacingAndGlyphs" transform="rotate(10 629.5 239.5)" style="stroke:#1c5a6c;stroke-width:0.3">CEREAL</text>
<path class="th" d="M641.5 246L654.7 248.5M653 254L660 255.5"/>
<path class="ln" d="M634 272l-1.500-6 3-3 4 1 2-5 5-1 3 3 4-1 3 4-1 5 3 3-2 5M640 264l4 2 1 5-4 2M648 262l5 3-1 5"/>
<path class="th" d="M670.5 232.5L676.5 229.5M671 238L676 235.5M671 243.5L675 241.5M671.5 249L676 246.5"/>
<path class="lw" d="M407 246L410.3 246L409.7 265L406.6 265Z"/>
<path class="lw" d="M397.6 267.4L408 262.7L419.8 266.8L419.8 270.3L409.3 275.5L397.6 271Z"/>
<path class="ln" d="M397.6 267.4L409.3 272L419.8 266.8M409.3 272L409.3 275.5"/>
<path class="lw" d="M406.6 262L406.9 268L409.9 268L409.7 262Z" style="stroke:none"/>
<path class="ln" d="M406.6 258L406.9 267.5M409.7 258L409.9 267.5"/>
<path class="lw" style="stroke-width:2.4" d="M393.5 230.5L397.6 222.9L411 218.8L419.8 225.8L421.6 235.2L415.2 244.6L401.7 246.3L394.6 241Z"/>
<text x="396.3" y="238.8" font-size="11.5" font-weight="bold" text-anchor="start" textLength="21.5" lengthAdjust="spacingAndGlyphs" transform="rotate(-4 396.3 238.8)" style="stroke:#1c5a6c;stroke-width:0.3">STOP</text>
<path class="lw" d="M451.3 317L455.3 317.6L455.3 341L451.6 341Z"/>
<path class="lw" d="M442.3 341.5L452.2 336.25L465.7 341L465.7 345L454.5 350.5L442.3 345.5Z"/>
<path class="ln" d="M442.3 341.5L454.5 346.5L465.7 341M454.5 346.5L454.5 350.5"/>
<path class="lw" d="M451.6 336L451.8 343.5L455.3 343.5L455.3 336Z" style="stroke:none"/>
<path class="ln" d="M451.6 334L451.8 343M455.3 334L455.3 343"/>
<path class="lw" d="M438.2 291.7L472.2 295.8L471.6 319.8L438.8 313.4Z"/>
<text x="441.5" y="308.5" font-size="12" font-weight="bold" text-anchor="start" textLength="26.5" lengthAdjust="spacingAndGlyphs" transform="rotate(6.5 441.5 308.5)" style="stroke:#1c5a6c;stroke-width:0.3">YIELD</text>
<path class="lw" d="M349.1 459.4L341 486.2L355 481Z"/>
<path class="lw" d="M349.1 459.4L383 440.7L395.2 474L358.5 492.6Z"/>
<text x="358.5" y="476.5" font-size="12.5" font-weight="bold" text-anchor="start" textLength="30.5" lengthAdjust="spacingAndGlyphs" transform="rotate(-21 358.5 476.5)" style="stroke:#1c5a6c;stroke-width:0.3">YIELD</text>
</g>
<path class="lw" d="M470.6 398L473 395.3L484.3 385.8L497 377.7L517.5 380.6L522.4 384.5L528.5 392L530 409.5L523.4 414L471.1 403.8Z"/>
<path class="ln" d="M473 395.5L479.9 396.5L487.2 387.8L484.3 385.8M487.2 387.8L507.7 393.8L518.5 385M507.7 393.8L513.6 401.5L523.4 390.5M513.6 401.5L528 407M479.9 396.5L485.3 397.7M486.5 392.5L503.5 395L507.5 402.5L485.5 397.8ZM495.5 393.8L495.5 400"/>
<ellipse cx="480.9" cy="407.3" rx="4.300" ry="5.800" fill="#1c5a6c"/><ellipse cx="481.2" cy="407.6" rx="1.300" ry="2.200" fill="#fcfcfb"/>
<ellipse cx="507.7" cy="413.6" rx="4.300" ry="5.800" fill="#1c5a6c"/><ellipse cx="508.0" cy="413.90000000000003" rx="1.300" ry="2.200" fill="#fcfcfb"/>
<path class="lw" d="M526 359L600 316L632 303L669 321.4L691 329.5L688 352.5L611 396L611 412L528 374Z"/>
<path class="ln" d="M526 359L611 396M651.6 332.5L684.4 343.6"/>
<g clip-path="url(#cut)">
<g filter="url(#er)">
<path class="rd" d="M562 356.5L604.5 331.3L624 320L624 392L612 384Z"/>
<path class="rd" style="fill:none" d="M616 335.5C619.1 336.9 628.1 341.4 634.6 344.2C641.1 347 648.6 349.9 655 352.5C661.4 355.1 668.2 357.3 672.7 360C677.2 362.7 679.1 365.2 682 368.5C684.9 371.8 687.1 375.7 690 380C692.9 384.3 696.8 389.7 699.4 394.4C702 399.1 703.3 403.7 705.6 408.4C707.9 413.1 710.5 417.6 713.4 422.5C716.3 427.4 718.8 432.9 722.8 438C726.8 443.1 735 450.5 737.5 453"/>
<path class="rd" style="fill:none" d="M616 386C617.9 386.3 623.2 387.2 627.5 388C631.8 388.8 637.3 388.7 641.5 391C645.7 393.3 649.4 397.8 652.5 402C655.6 406.2 657.7 411.3 660 416C662.3 420.7 664.5 424.7 666.5 430C668.5 435.3 668.5 440 672 448C675.5 456 684.9 473 687.5 478"/>
<path class="rf" d="M562 356.5L604.5 331.3L624 320L624 392L612 384Z"/>
<path class="rf" d="M616 335.5C619.1 336.9 628.1 341.4 634.6 344.2C641.1 347 648.6 349.9 655 352.5C661.4 355.1 668.2 357.3 672.7 360C677.2 362.7 679.1 365.2 682 368.5C684.9 371.8 687.1 375.7 690 380C692.9 384.3 696.8 389.7 699.4 394.4C702 399.1 703.3 403.7 705.6 408.4C707.9 413.1 710.5 417.6 713.4 422.5C716.3 427.4 718.8 432.9 722.8 438C726.8 443.1 735 450.5 737.5 453L687.5 478C684.9 473 675.5 456 672 448C668.5 440 668.5 435.3 666.5 430C664.5 424.7 662.3 420.7 660 416C657.7 411.3 655.6 406.2 652.5 402C649.4 397.8 645.7 393.3 641.5 391C637.3 388.7 631.8 388.8 627.5 388C623.2 387.2 617.9 386.3 616 386Z"/>
</g>
<path class="ds" d="M586 346C587 346.3 588.2 346.5 592 348C595.8 349.5 601.9 352.1 609 355C616.1 357.9 627.1 362.1 634.6 365.7C642.1 369.3 647.9 371.3 654 376.4C660.1 381.4 666 388.7 671 396C676 403.3 679.6 412.2 683.8 420C687.9 427.8 691.2 435.2 696 443C700.8 450.8 706 460.5 712.5 467C719 473.5 728.8 476.5 735 482C741.2 487.5 747.7 494.3 750 500C752.3 505.7 751.1 510.5 749 516C746.9 521.5 742 528.3 737.5 533C733 537.7 724.6 542.2 722 544" stroke-dasharray="10 14"/>
</g>
<path class="lw" d="M639 290C642.5 287.8 653.2 280.6 660 276.5C666.8 272.4 673.1 268.8 680 265.5C686.9 262.2 697.9 258.4 701.5 257 L701.5 257 L695 302 L634 339.5 Z"/>
<path class="ln" d="M638 285.5C641.7 283.2 653 275.7 660 271.5C667 267.3 673.3 263.8 680 260.5C686.7 257.2 696.7 253.4 700 252"/>
<path class="lw" d="M698.4 246L706.5 243L718 245.5L707.8 327L697.3 383L688.2 373L692 327L701.5 252.5Z"/>
<path class="ln" d="M698.4 246L709 249L718 245.5M709 249L699.5 327L693.2 378"/>
<path class="lw" d="M531 375.5L533.2 418L534.5 453L543.2 458L549.5 453L550.8 418L550 384Z"/>
<path class="ln" d="M542 380L543.2 458"/>
<path class="lw" d="M623.4 288L631 284.5L639 287.5L632.8 327L625.8 419.5L625.8 485.5L618.2 493L610.8 485.5L612 419.5L618.8 327Z"/>
<path class="ln" d="M623.4 288L631.5 291.5L639 287.5M631.5 291.5L618.2 419.5L618.2 493"/>
<path class="th" d="M648 435.5L664 444M646 441L667 452M649 447L670 458M653 453L673 463.5M657 459L677 469.5M661 465L681 475M666 471L685 480.5M651 430L662 436"/>
<path class="th" d="M629 392L630 402M632 392.5L633 401M635 393L636 400"/>
<path class="lw" d="M875 300C876.3 297.6 884.4 297.8 887.9 297.6C891.4 297.4 893.6 297.4 896 298.8C898.4 300.1 899.6 303.3 902 305.8C904.4 308.3 907.5 311.6 910.2 314C912.9 316.4 914.9 317.2 918 320C921.1 322.8 927 328.2 929 330.5C931 332.8 931.6 333 930.2 334C928.8 335 925.9 336 920.8 336.3C915.7 336.6 904.7 337.5 899.6 335.6C894.5 333.7 893.3 328.9 890 325C886.7 321.1 882.5 316.2 880 312C877.5 307.8 873.7 302.4 875 300Z" style="stroke-width:2.6"/>
<path class="lw" d="M816.2 292.9C812.1 295.8 811.6 299.4 810.4 302.3C809.2 305.2 808.4 308 809.2 310.5C810 313 812.2 316.2 815 317.5C817.8 318.8 822.7 317.9 826 318C829.3 318.1 833.4 316.1 835 317.8C836.6 319.5 834.5 325.1 835.5 328C836.5 330.9 837.6 333.4 840.9 335C844.1 336.6 849.3 337.2 855 337.5C860.7 337.8 868.7 337.2 875 337C881.3 336.8 889 337.4 892.6 336.3C896.2 335.2 895.7 333.4 896.5 330.5C897.3 327.6 897.5 321.2 897.3 318.7C897 316.2 897.9 316 895 315.7C892.1 315.4 885.1 316.3 880 316.8C874.9 317.3 866.2 319.8 864.4 318.7C862.6 317.6 867.2 314 869 310.5C870.8 307 874 302.1 875 297.6C876 293.1 877.5 286.4 875 283.5C872.5 280.6 866.7 279.8 860 280C853.3 280.2 842.3 282.9 835 285C827.7 287.1 820.4 290 816.2 292.9Z" style="stroke-width:2.6"/>
<path class="ln" style="stroke-width:2.6" d="M864.4 318.7C862 318.6 854.9 318.4 850 318.3C845.1 318.2 837.5 317.9 835 317.8"/>
<path class="ln" style="stroke-width:2.6" d="M886.7 301C886.8 302.2 887.3 305.6 887.5 308C887.7 310.4 887.8 314 887.9 315.2"/>
<path class="lw" d="M803.3 237.5C806.7 234.3 812.7 237.7 817.4 238.7C822.1 239.7 826.8 241.4 831.5 243.4C836.2 245.4 840.9 247.8 845.6 250.5C850.3 253.2 855.8 256.3 859.7 259.8C863.6 263.3 866.6 267.7 869 271.6C871.4 275.5 873 279.4 873.8 283.3C874.6 287.2 874.6 291.5 873.8 295C873 298.5 870.6 303.7 869 304.5C867.4 305.3 866.7 301.9 864 300C861.3 298.1 856.6 293.3 852.7 292.9C848.9 292.5 845.2 297.2 840.9 297.6C836.6 298 831.1 296.2 826.8 295.2C822.5 294.2 819.3 293.8 815 291.7C810.7 289.6 805.1 282.5 801 282.3C796.9 282.1 794.1 290 790.4 290.4C786.7 290.8 780.1 286.9 778.7 284.5C777.3 282.1 780.3 279.1 782.2 276.3C784.1 273.6 787.5 271.1 790 268C792.5 264.9 794.8 263.1 797 258C799.2 252.9 799.9 240.7 803.3 237.5Z" style="stroke-width:2.6"/>
<path class="ln" style="stroke-width:2.6" d="M803.3 284.5C803.9 282.8 805.7 276.6 806.9 274C808.1 271.4 809.8 270 810.4 269.2"/>
<path class="ln" style="stroke-width:2.6" d="M852.7 292.9C854.2 291.3 859.9 286.4 862 283.3C864.1 280.2 865.2 277.1 865.6 274C866 270.9 864.6 266.1 864.4 264.5"/>
<path class="ln" style="stroke-width:2.6" d="M790.4 300C790.2 301.2 789.6 304.7 789 307C788.4 309.3 787.7 311.8 786.9 314C786.1 316.2 785 318 784 320C783 322 781.5 324.8 781 325.8"/>
<path class="ln" style="stroke-width:2.6" d="M797 299C796.7 300.7 796 305.8 795 309C794 312.2 792.3 315.5 791 318C789.7 320.5 787.7 323 787 324"/>
<path class="lw" d="M781 288.2C778.5 289.1 782.3 289.1 779.8 290.5C777.3 291.9 770.7 294.8 765.8 296.4C760.9 298 753.6 298.4 750.5 300C747.4 301.6 746.8 304 747 306C747.2 308 749.9 310.9 752 312C754.1 313.1 756 313.6 759.9 312.8C763.8 312 769.9 309.3 775.2 307C780.5 304.7 787.3 301.4 791.6 298.8C795.9 296.1 800.4 293.3 801 291C801.6 288.7 798.3 285.5 795 285C791.7 284.5 783.5 287.3 781 288.2Z" style="stroke-width:2.6"/>
<path class="lw" d="M770.5 200C774.4 200 778.3 200.6 782.2 202.3C786.1 204.1 791.1 207.4 794 210.5C796.9 213.6 798.4 217.7 799.8 221C801.2 224.3 802 227.7 802.2 230.5C802.4 233.3 801.8 233.5 801 238C800.2 242.5 798.5 253.3 797.5 257.5C796.5 261.7 797.3 260.8 795.1 263.4C792.9 265.9 787.8 271 784.5 272.8C781.2 274.6 778.1 274.4 775.2 274.4C772.3 274.4 768.9 273.5 766.9 272.8C764.9 272.1 764.8 271.1 763.4 270.4C762 269.7 759.7 269.8 758.7 268.8C757.7 267.8 758.1 266.2 757.5 264.5C756.9 262.8 757.2 260.3 755.2 258.7C753.2 257.1 748.5 257.4 745.8 255C743.1 252.7 740.3 248.3 738.8 244.6C737.2 240.9 736.4 236.5 736.4 232.8C736.4 229.1 737 226 738.8 222.3C740.5 218.6 743.7 213.8 747 210.5C750.3 207.2 754.8 204.1 758.7 202.3C762.6 200.6 766.6 200 770.5 200Z" style="stroke-width:2.6"/>
<path class="ln" style="stroke-width:2.200" d="M764.600 198.800L768 196.500M769.500 199L771.600 196.200L775 198.500"/>
<path class="ln" style="stroke-width:2.400" d="M745.800 255L750.500 245.800M749 256.500L754.500 247M753 258L758.700 241C761 236 764 232 768 228C769 231.500 770.500 234.500 772.800 236.400C774.500 238 776.500 238.800 778.700 238.700C779 236 780.500 234 782.200 232.800C784 231.200 786 230.500 788 230.500"/>
<path class="lw" style="stroke-width:2.400" d="M788 230.500C792 229 796.500 231 797.500 236C798 240.500 795.500 244 791.500 244.300C789.500 244.300 788.500 243.500 788 242.500"/>
<path class="ln" style="stroke-width:2.200" d="M759.900 250.500C762 251.500 764.500 252.300 767 252.800M765.500 256.800C766.300 258 767.500 258.500 768.800 258"/>
<path class="lw" d="M711.300 314.600L724.200 305L738.200 300L745.200 302.200L748 310L760.200 316.200L766.100 322.100L766.700 330.200L751.600 336L712.400 320.500Z"/>
<path class="ln" style="stroke-width:2" d="M745.200 302.200L742.500 317.500L751 327.500L751.600 336M751 327.500L766.100 322.100M742.500 317.500L748.500 311M721.500 314.500L726.900 308.200L737 312.500L740.500 321.500ZM731.200 310L733 318.500"/>
<ellipse cx="719.9" cy="325.3" rx="4" ry="5.400" fill="#1c5a6c"/><ellipse cx="720.1999999999999" cy="325.6" rx="1.200" ry="2" fill="#fcfcfb"/>
<ellipse cx="741.4" cy="334" rx="4" ry="5.400" fill="#1c5a6c"/><ellipse cx="741.6999999999999" cy="334.3" rx="1.200" ry="2" fill="#fcfcfb"/>
<circle class="th" cx="756" cy="329" r="1.500"/><circle class="th" cx="764.300" cy="325.900" r="1.500"/>
<path class="lw" d="M747.300 300C750 296.500 754 295.200 758 295.800C762 297 765 300 766 304C765.500 308 762.500 311.500 759 313.500C755 315.500 750.500 315 747.500 312.500C744.500 309 744.800 303.500 747.300 300Z" style="stroke-width:2"/>
<path class="ln" style="stroke-width:1.700" d="M746.500 306C747.500 302.800 749.500 301 751.500 300.500M749 309.500C750 306 752 303.800 754.500 303M752 312.500C753 309 755 306.500 757.500 305.700M755.500 314C756.500 311 758 309 760.500 308"/>
<path class="ln" style="stroke-width:2" d="M781 318C779 321 776.500 324 775.300 326.500C774 325 773.500 323 774 321.500"/>
<path class="lw" d="M659.5 41L704.7 39.4L682.8 72.2L712.5 108L634.4 113.5L632.8 95.6Z"/>
<path class="ln" d="M634.6 112.5L659 95.3"/>
<path class="lw" style="stroke-width:2.6" d="M153 30.8C154.2 30.6 156.3 29.9 160 29.4C163.7 28.9 168.3 28.4 175 28C181.7 27.6 183 27 200 26.8C217 26.5 251.5 26.1 277 26.2C302.5 26.4 332.5 27.2 353 27.5C373.5 27.8 383.8 28.4 400 28.3C416.2 28.2 434.4 27.5 450 27C465.6 26.5 470.8 26.3 493.8 25.3C516.7 24.3 563.1 22.2 587.5 21.2C611.9 20.3 628.3 19.9 640 19.6C651.7 19.3 654.8 19.3 657.8 19.2 L660 95 C647.9 95.4 615.2 96.3 587.5 97.2C559.8 98.1 525 99.3 493.8 100.3C462.5 101.3 427.3 102.8 400 103.2C372.7 103.7 354 103.2 330 103C306 102.8 277.7 102 256 102C234.3 102 216.5 102.5 200 102.8C183.5 103.1 164.2 103.8 157 104 Z"/>
<text x="167.8" y="64.4" font-size="30.8" textLength="51.3" lengthAdjust="spacingAndGlyphs" transform="rotate(-0.6 167.8 64.4)" style="stroke:#1c5a6c;stroke-width:0.9;stroke-linejoin:round">THE</text>
<text x="236.7" y="63.7" font-size="30.8" textLength="83.5" lengthAdjust="spacingAndGlyphs" transform="rotate(-0.6 236.7 63.7)" style="stroke:#1c5a6c;stroke-width:0.9;stroke-linejoin:round">FLOOR</text>
<text x="334.8" y="62.7" font-size="30.8" textLength="76.2" lengthAdjust="spacingAndGlyphs" transform="rotate(-0.6 334.8 62.7)" style="stroke:#1c5a6c;stroke-width:0.9;stroke-linejoin:round">TAPE</text>
<text x="422.5" y="61.8" font-size="30.8" textLength="66" lengthAdjust="spacingAndGlyphs" transform="rotate(-0.6 422.5 61.8)" style="stroke:#1c5a6c;stroke-width:0.9;stroke-linejoin:round">ROAD</text>
<text x="502" y="61" font-size="30.8" textLength="141.5" lengthAdjust="spacingAndGlyphs" transform="rotate(-0.6 502 61)" style="stroke:#1c5a6c;stroke-width:0.9;stroke-linejoin:round">NETWORK:</text>
<text x="218.5" y="91.2" font-size="19.6" textLength="13.8" lengthAdjust="spacingAndGlyphs" transform="rotate(-0.9 218.5 91.2)" style="stroke:#1c5a6c;stroke-width:0.7;stroke-linejoin:round">A</text>
<text x="247" y="90.8" font-size="19.6" textLength="46.8" lengthAdjust="spacingAndGlyphs" transform="rotate(-0.9 247 90.8)" style="stroke:#1c5a6c;stroke-width:0.7;stroke-linejoin:round">CITY</text>
<text x="310" y="89.8" font-size="19.6" textLength="20.5" lengthAdjust="spacingAndGlyphs" transform="rotate(-0.9 310 89.8)" style="stroke:#1c5a6c;stroke-width:0.7;stroke-linejoin:round">IN</text>
<text x="345" y="89.3" font-size="19.6" textLength="55.8" lengthAdjust="spacingAndGlyphs" transform="rotate(-0.9 345 89.3)" style="stroke:#1c5a6c;stroke-width:0.7;stroke-linejoin:round">YOUR</text>
<text x="414.5" y="88.2" font-size="19.6" textLength="71.5" lengthAdjust="spacingAndGlyphs" transform="rotate(-0.9 414.5 88.2)" style="stroke:#1c5a6c;stroke-width:0.7;stroke-linejoin:round">LIVING</text>
<text x="502" y="86.8" font-size="19.6" textLength="64" lengthAdjust="spacingAndGlyphs" transform="rotate(-0.9 502 86.8)" style="stroke:#1c5a6c;stroke-width:0.7;stroke-linejoin:round">ROOM</text>
<text x="809" y="51.5" font-size="17" textLength="39" lengthAdjust="spacingAndGlyphs" transform="rotate(0 809 51.5)" style="stroke:#1c5a6c;stroke-width:0.6;stroke-linejoin:round">TAXI</text>
<text x="802.5" y="71.5" font-size="17" textLength="70.5" lengthAdjust="spacingAndGlyphs" transform="rotate(0 802.5 71.5)" style="stroke:#1c5a6c;stroke-width:0.6;stroke-linejoin:round">MISSION</text>
<text x="930" y="175.5" font-size="17.5" textLength="42" lengthAdjust="spacingAndGlyphs" transform="rotate(0 930 175.5)" style="stroke:#1c5a6c;stroke-width:0.6;stroke-linejoin:round">SOFA</text>
<text x="921" y="194.8" font-size="17.5" textLength="73" lengthAdjust="spacingAndGlyphs" transform="rotate(0 921 194.8)" style="stroke:#1c5a6c;stroke-width:0.6;stroke-linejoin:round">STATION</text>
<text x="824.5" y="527.3" font-size="20" textLength="80.3" lengthAdjust="spacingAndGlyphs" transform="rotate(0 824.5 527.3)" style="stroke:#1c5a6c;stroke-width:0.7;stroke-linejoin:round">TRAFFIC</text>
<text x="914.8" y="527.3" font-size="20" textLength="71.6" lengthAdjust="spacingAndGlyphs" transform="rotate(0 914.8 527.3)" style="stroke:#1c5a6c;stroke-width:0.7;stroke-linejoin:round">SCHOOL</text>
<text x="46" y="490.8" font-size="22" textLength="29" lengthAdjust="spacingAndGlyphs" transform="rotate(0 46 490.8)" style="stroke:#1c5a6c;stroke-width:0.7;stroke-linejoin:round">DIY</text>
<text x="29.6" y="513.5" font-size="22" textLength="36.9" lengthAdjust="spacingAndGlyphs" transform="rotate(0 29.6 513.5)" style="stroke:#1c5a6c;stroke-width:0.7;stroke-linejoin:round">CAR</text>
<text x="76.5" y="513.5" font-size="22" textLength="37.7" lengthAdjust="spacingAndGlyphs" transform="rotate(0 76.5 513.5)" style="stroke:#1c5a6c;stroke-width:0.7;stroke-linejoin:round">MAT</text>
<text x="199.5" y="518.4" font-size="20" textLength="87.9" lengthAdjust="spacingAndGlyphs" transform="rotate(0 199.5 518.4)" style="stroke:#1c5a6c;stroke-width:0.7;stroke-linejoin:round">CREATIVE</text>
<text x="298.7" y="518.4" font-size="20" textLength="42.6" lengthAdjust="spacingAndGlyphs" transform="rotate(0 298.7 518.4)" style="stroke:#1c5a6c;stroke-width:0.7;stroke-linejoin:round">PLAY</text>
<g class="sm">
<path class="lw" d="M817 113.600L823 107.300L837 102L863.750 106.600L873 109L877.800 111L882.500 117.500L893.400 121.400L897.300 127L899 131.500L897 137L893 140L884 143.500C882 139 878 136.500 874 138C871 140 869.500 144 870 150L848 158.500C846 154.500 842 153 838.500 154.500C834.500 157 832.500 161 832.500 166L823 166.700L795 161.500L791 156.500L792.600 148.750L795 141.700L813 130Z"/>
<path class="ln" d="M817.600 115L842 121.400L837 139.400L813 130ZM842 121.400L848 121.400L859.800 116L863 115L871.500 111L877.800 123L863.750 128.400L861.400 130L844.200 134ZM861 116L862.500 129.500M862 133L863.750 148.750M837 139.400C828 142 822 147 820.500 152L823 166M795 141.700L820.500 152M791 156.500L822 163.500"/>
<path class="th" d="M822 120L832 116M818 127L829 122.500M828 134.500C829.500 131 833 131 835 134M864 118L872 121"/>
<path class="lw" style="stroke-width:1.800" d="M840 136.500C843 135.500 846 136.500 846.500 139C846 141.500 843 142 840 141.500Z"/>
<circle class="lw" cx="795.800" cy="150.300" r="2.300" style="stroke-width:1.800"/><circle class="lw" cx="814.500" cy="158" r="2.300" style="stroke-width:1.800"/>
<path class="th" d="M800.500 152.500L809 155.800L808.600 157.800L800 154.500Z"/>
<path class="lw" style="stroke-width:1.800" d="M893.500 134L898.500 131.500L898.800 135.500L894 138Z"/>
<ellipse class="lw" cx="877.800" cy="145" rx="6.300" ry="7.600" transform="rotate(12 877.8 145)" style="stroke-width:2.600"/><ellipse class="ln" cx="878.300" cy="145.300" rx="2.200" ry="2.900" transform="rotate(12 878.3 145.3)"/>
<ellipse class="lw" cx="839.500" cy="162.300" rx="6.300" ry="7.600" transform="rotate(12 839.5 162.3)" style="stroke-width:2.600"/><ellipse class="ln" cx="840" cy="162.600" rx="2.200" ry="2.900" transform="rotate(12 840 162.6)"/>
<path class="lw" d="M836.4 94.8L842 92.5L857.5 97.2L860.6 106.6L855 109L835.6 101Z"/>
<path class="th" d="M836.4 94.8L853 100L857.5 97.2M853 100L855 109"/>
<text x="838.2" y="101.2" font-size="7.5" font-weight="bold" text-anchor="start" textLength="14.5" lengthAdjust="spacingAndGlyphs" transform="rotate(17 838.2 101.2)" style="stroke:#1c5a6c;stroke-width:0.3">TAXI</text>
<path class="ln" d="M774.7 160.5L786.4 153.4M825.5 191L942 130"/>
<path class="ln" d="M921.750 172.500C914 171 909 166 906.750 160M915.500 159.300L906.750 160L908.500 168"/>
<path class="lw" d="M909.500 62C909 55 909 50 909.500 45.600C910.500 39 913 36.500 916.700 36.300C940 38 962 41.500 983.700 45.600C990 46.500 994 48 995.500 54C997 60 997.300 64 997 66L997 111.600C996 115.500 994.500 117.500 992 118.800L973.400 128L967.200 130L880.600 103.400C880.800 93 881 84 881.600 74.500C883 67 889 62.500 897 62C902 61.500 906 62 909.500 62Z"/>
<path class="ln" d="M909.500 62C912.500 64 914.500 67 914.600 71.400M917.700 40.500C938 43 960 47 979.600 51.800M891 83.800C891 80 893 78 897 76.500L913.600 73.500C923 75 933 77.500 942.500 80.700M890 86.900L939.400 97.200M891 96L938.400 107.500M881.600 74.500C886 76 890 79 891 83.800L891 104M969.300 84.800C974 81 979 79 983.700 78.600C988 78.500 992 79.500 994 80.700M969.300 84.800C972 92 973 100 973.400 107.500L973.400 128M986.800 62C985.500 67 985.500 72 985.800 77.600"/>
<path class="th" d="M884 106.500C884 109.500 889.500 110.500 890 107.500M964 130.500C964 133.500 969.500 134 970 131M990 120C990.500 122.500 994.500 121.500 994.500 118.500"/>
<circle class="lw" cx="956.300" cy="64.200" r="6.600" style="stroke-width:2.400"/>
<path class="lw" d="M953 72.500C950.500 74 949.500 75.500 948.700 77.500C945 81 941 84 937.500 86.500C936.500 88.500 938.500 89.500 940.500 88.500L948 84.500L946.600 93L938.600 110C940.500 111.500 943 111.500 944 110.500L951 97.500L954 98L948.500 113.500C950.500 115.500 953.500 115.500 954.500 114L962 97C963.500 94 964 92 963 91C965.500 90 967 88 967.200 86.900C967.500 82 966.500 79 965 78.600C962 74.500 958 72.500 953 72.500Z"/>
<ellipse class="ln" cx="896" cy="439" rx="21.500" ry="13"/>
<ellipse class="ln" cx="896" cy="440" rx="39.500" ry="26" stroke-dasharray="9 6.500"/>
<path class="ln" d="M879.700 383C878.800 391 878 399 877.500 406C870 411 860 414.500 851.600 419C849 421 848 423.500 847.300 425.500L808.600 426M914.700 382.500C915 389.500 915.600 396.500 916.200 403C922 406.500 929 409 934.800 411.700C941 415 946 420 949 425.500L989.300 426M801.400 453.300L841.600 453.300C846 458 850 462.500 854.500 466.200C860 471 866 475 871.700 477.700C872.500 485 873 492 873 499M990.800 456.200L955 457.600C951 461 947.500 464 943.400 466.200C936 471.500 928 476 920.500 479C919.500 486 918.500 493 918 499"/>
<path class="ln" stroke-dasharray="6 4.500" d="M897.500 385L897.500 406M805.700 439.800L826 439.800M960.600 440.400L996 440.400M896 481L896 499"/>
<path class="ln" style="stroke-width:1.800" d="M881.750 404.500L891.800 404.500L886.600 396ZM952 430.400L952 439L960.600 434.700ZM903.300 481L913.300 481L908.400 490.600Z"/>
<path class="lw" style="stroke-width:2" d="M828 437L844.500 437L836.400 450.400Z"/>
<path class="ln" d="M836.4 450.4L835.9 463"/>
<ellipse class="ln" cx="835.900" cy="464.500" rx="3.600" ry="2" style="stroke-width:1.800"/>
<rect class="lw" x="835.900" y="386.500" width="14.300" height="14.300" style="stroke-width:2"/>
<path class="ln" style="stroke-width:1.800" d="M843 398L843 390M840.300 392.800L843 389.500L845.700 392.800"/>
<path class="ln" d="M843 400.8L843 415"/>
<ellipse class="ln" cx="842.500" cy="416.900" rx="4" ry="1.900" style="stroke-width:1.800"/>
<path class="lw" style="stroke-width:2" d="M954.500 369C954 365 954.500 362 955.500 360.500L964 359.500C965 362 964.500 366 963.500 369C961 371.500 957 371.500 954.500 369Z"/>
<path class="lw" style="stroke-width:2" d="M951 360C955 358.500 962 357 967.800 355.800C967 353 966 352 965.500 351.500C961 350 956 350.500 953.500 352.500C953 355 953 357 953.500 358.500"/>
<path class="lw" style="stroke-width:2" d="M952 370.500L926.200 375C925 376 925.500 378 927 378.500L952 378.700L952 391.600L953 397L952 416L958 416L960.600 398.500L963.500 416L969.300 416L968 397L967.800 391.600L969 380L971.500 396L974 396L973 382C972.500 376 971 372 969.300 370.500C964 368.500 957 368.500 952 370.500Z"/>
<path class="ln" style="stroke-width:1.800" d="M952 383L968 383M952 388L968 388M956.500 370.500L960.500 377L964.500 370.500M960.500 377L960.500 391.600M952 391.600L967.800 391.600"/>
<path class="ln" style="stroke-width:1.800" d="M949 417.500L957.500 417.500M961.500 417.500L972 418"/>
</g>
<path class="rf" style="stroke:#17566a;stroke-width:2;stroke-linejoin:round" d="M161.700 471C168 475 174 478 178.750 478.500C180.500 484 180.800 489 180 493C179 500 176 506 172.500 510.500C166 520 158 529 150 537.500C139 534 128 530 118.750 525.500C133 513 147 499 160 485.500C161 480 161.500 475 161.700 471Z"/>
<path class="rf" style="stroke:#17566a;stroke-width:2;stroke-linejoin:round" d="M97.800 448.600C97.800 440 113 434 132.600 434C152 434 167.300 440 167.300 448.600L166.500 478C160 487 147 491.500 132.600 491.500C116 491 103 485 100 475.500Z"/>
<path style="fill:none;stroke:#17566a;stroke-width:1.600" d="M97.800 448.600C99 458 114 463.500 132.600 463.500C151 463.500 166 458 167.300 448.600"/>
<ellipse cx="133.700" cy="448.300" rx="20.500" ry="7.600" style="fill:#fcfcfb;stroke:#17566a;stroke-width:1.800"/>
<path style="fill:none;stroke:#17566a;stroke-width:1" d="M104 442C110 438 120 436 130 435.500M146 464L147 487M150 463.500L151 486M154 462.500L155 484.500M106 462C106.500 470 107 478 108 483"/>
<path class="rf" style="stroke:#17566a;stroke-width:2;stroke-linejoin:round" d="M184 417C174 419 163 427 157 437.400C155.500 443 157 448.500 159.500 453C165 462 172 470 179.600 475.500C185 480 190 484 195.300 486.700C201 489.500 207 490.500 213.250 489C219 485.500 223.500 480.500 226.700 475.500C229.500 471 231 466.500 231.200 462C231 455 228.500 448 224.500 442C220 434.500 214 428.500 206.500 424C199 419.500 191.500 417 184 417Z"/>
<path style="fill:none;stroke:#17566a;stroke-width:1.600" d="M172 425.500C168 431 169 439 174 448C180 458 190 468 203 473C214 476.500 224 473 229 465"/>
<ellipse cx="201.500" cy="444.500" rx="22" ry="11.500" transform="rotate(40 201.5 444.5)" style="fill:#fcfcfb;stroke:#17566a;stroke-width:1.800"/>
<path style="fill:none;stroke:#17566a;stroke-width:1" d="M176 424C182 420.500 190 420.500 198 423.500M195.500 476L198 480L200.500 477.500L203 481.500L206 479L207 473.500M164 473L165 482M167.500 474.500L168.500 484M171 476L172 486"/>
<path class="ln" d="M248.750 493C250.500 482 246 471 237.500 464M245.500 462.600L237.500 464L238.800 471.500"/>
<g transform="translate(0 9)">
<path class="th" d="M685 188.500L680 205M688 188L691 210M692 189L696.500 209M695 190C699 196 703 203 707 206C712 208 718 209.500 724 208M684 194C681 198 678 201 676.500 204M685 188.500C688 186.500 692 187 695 190M687 193L688 204M690.500 193L692 204M687 198L691.500 198"/>
<path class="th" d="M718 207.500L719 203.500L727.500 203L728.500 207M714 209L733 208.500M702 213C703.500 210.500 707 210.500 708 213"/>
</g>
</svg>
</body></html>
